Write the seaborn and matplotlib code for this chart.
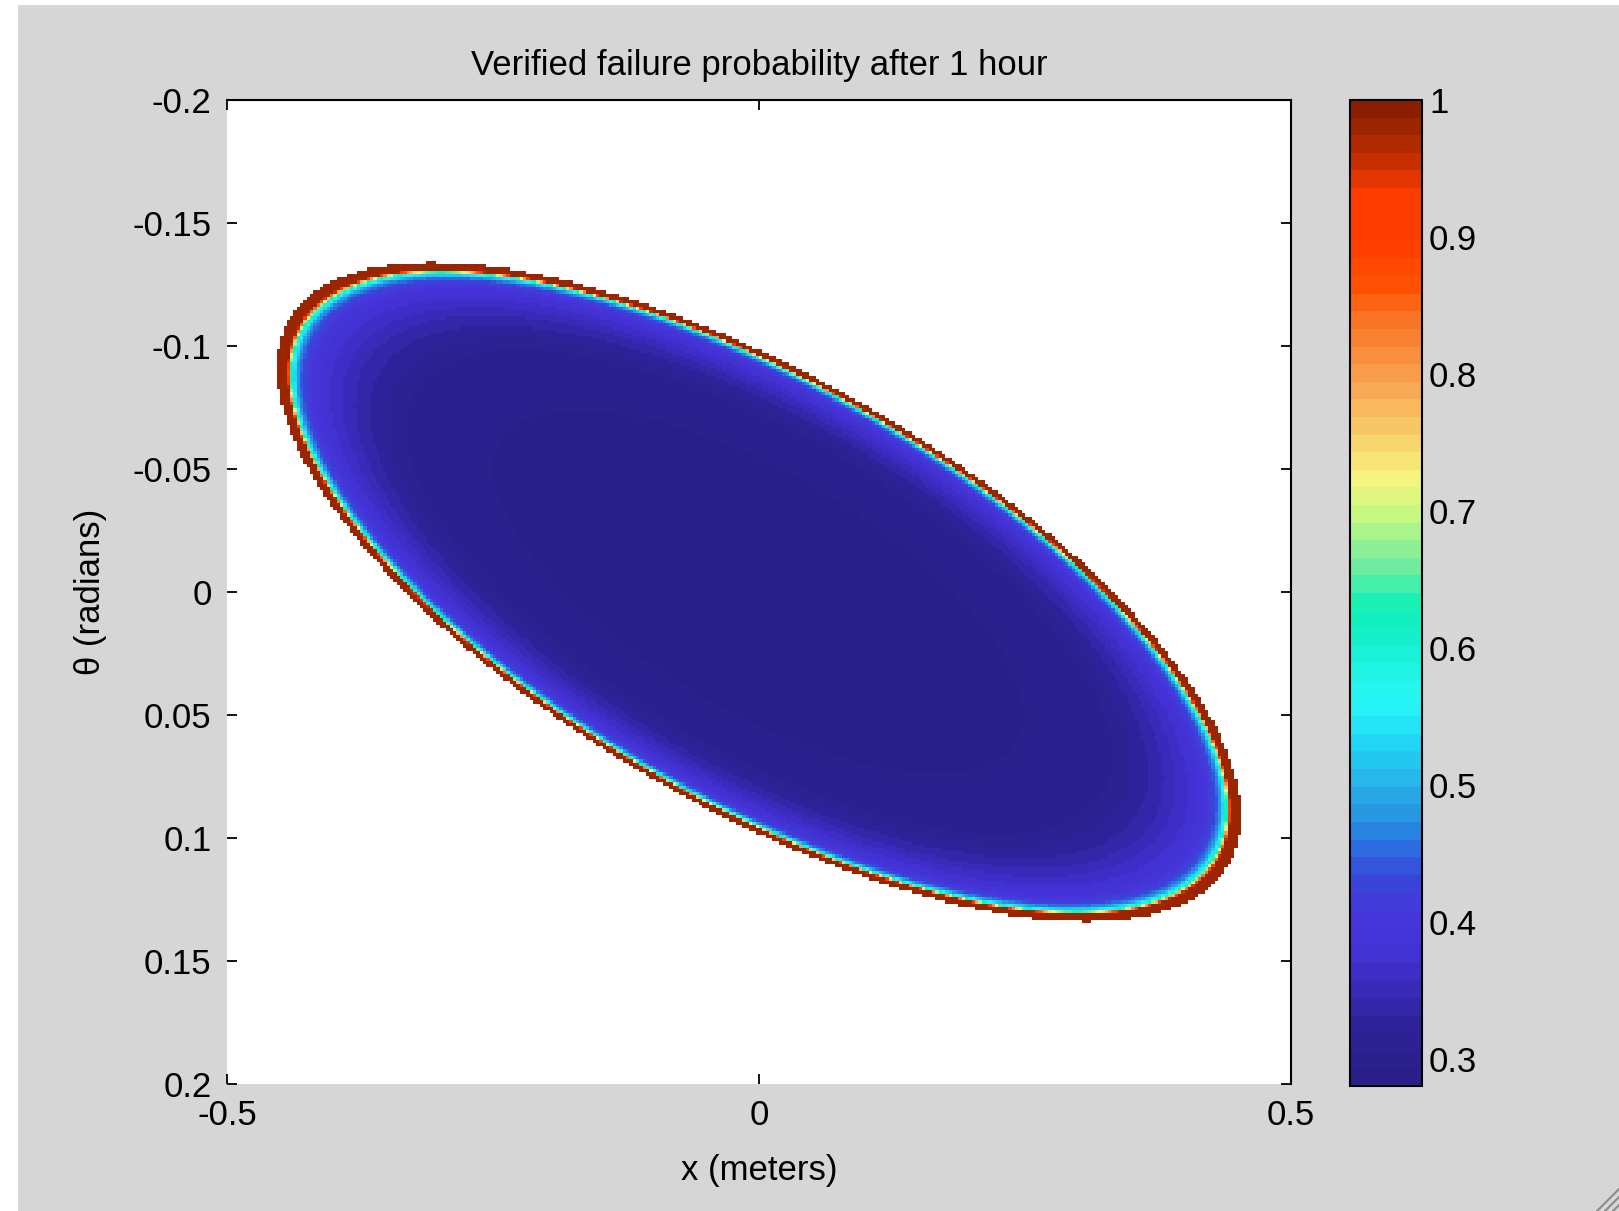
import matplotlib
matplotlib.use("Agg")
import matplotlib.pyplot as plt
from matplotlib.colors import LinearSegmentedColormap
from matplotlib.patches import Rectangle
from matplotlib.lines import Line2D
import numpy as np
import pandas as pd
import seaborn as sns


# Axis ranges and tick labels
x_range = [-0.5, 0.5]
theta_range = [-0.2, 0.2]
x_ticks = [-0.5, 0, 0.5]
x_tick_labels = ["-0.5", "0", "0.5"]
theta_ticks = [-0.2, -0.15, -0.1, -0.05, 0, 0.05, 0.1, 0.15, 0.2]
theta_tick_labels = ["-0.2", "-0.15", "-0.1", "-0.05", "0", "0.05", "0.1", "0.15", "0.2"]
cbar_ticks = [0.3, 0.4, 0.5, 0.6, 0.7, 0.8, 0.9, 1.0]
cbar_tick_labels = ["0.3", "0.4", "0.5", "0.6", "0.7", "0.8", "0.9", "1"]
prob_min, prob_max = 0.28, 1.0

# Boundary of the verified region (an ellipse centred on the origin):
# the point with the largest x and the point with the largest theta
x_extreme_point = [0.453, 0.090]
theta_extreme_point = [0.311, 0.134]

# Failure probability against normalised distance from the centre (1 = boundary)
radius_levels = [0.0, 0.70, 0.78, 0.84, 0.89, 0.925, 0.945, 0.957, 0.964, 0.970, 0.974, 0.978, 1.0]
probability_levels = [0.285, 0.295, 0.32, 0.345, 0.37, 0.39, 0.43, 0.48, 0.55, 0.63, 0.78, 0.98, 0.98]

# Colour map as seen in the colour bar (value, colour)
cmap_values = [0.28, 0.32, 0.345, 0.37, 0.40, 0.43, 0.45, 0.47, 0.50, 0.53, 0.56, 0.60,
               0.63, 0.66, 0.70, 0.725, 0.76, 0.80, 0.84, 0.87, 0.90, 0.935, 0.955, 0.98, 1.0]
cmap_colors = ["#2a1f88", "#2e229a", "#3a2ab8", "#4232d4", "#4636dc", "#3848d8", "#2c6ce0",
               "#2890e0", "#28b4ea", "#20d8f4", "#28f8f8", "#18f0d0", "#10f0b8", "#70eca0",
               "#c8f880", "#f6f480", "#f8cc68", "#f8a050", "#f87828", "#ff5000", "#ff3c00",
               "#ff3c00", "#d03200", "#a42800", "#8a1e00"]

# grid resolution of the field
nx, ny = 320, 300


# quadratic form a x^2 + 2 b x t + c t^2 = 1 from the two extreme points
k1 = -x_extreme_point[1] / x_extreme_point[0]
k2 = -theta_extreme_point[0] / theta_extreme_point[1]
a = 1 / (x_extreme_point[0] ** 2 * (1 - k1 * k2))
c = 1 / (theta_extreme_point[1] ** 2 * (1 - k1 * k2))
b = 0.5 * (k1 * c + k2 * a)

dx = (x_range[1] - x_range[0]) / nx
dt = (theta_range[1] - theta_range[0]) / ny
x_centres = x_range[0] + (np.arange(nx) + 0.5) * dx
t_centres = theta_range[0] + (np.arange(ny) + 0.5) * dt
X, T = np.meshgrid(x_centres, t_centres)
r = np.sqrt(a * X ** 2 + 2 * b * X * T + c * T ** 2)
prob = np.interp(r, radius_levels, probability_levels)
prob[r > 1] = np.nan

df = pd.DataFrame(prob, index=np.round(t_centres, 4), columns=np.round(x_centres, 4))

stops = [(v - prob_min) / (prob_max - prob_min) for v in cmap_values]
cmap = LinearSegmentedColormap.from_list("verified", list(zip(stops, cmap_colors)), N=56)


sns.set_style("white")
plt.rcParams["font.family"] = ["Liberation Sans", "DejaVu Sans"]
plt.rcParams["text.color"] = "black"
plt.rcParams["axes.labelcolor"] = "black"
plt.rcParams["xtick.color"] = "black"
plt.rcParams["ytick.color"] = "black"
fs = 25

fig = plt.figure(figsize=(16.19, 12.11), dpi=100, facecolor="#d6d6d6")
# white strips at the left and top border of the screenshot
fig.patches.append(Rectangle((0, 0), 18 / 1619, 1, transform=fig.transFigure,
                             facecolor="white", edgecolor="none", zorder=-1))
fig.patches.append(Rectangle((0, 1 - 5 / 1211), 1, 5 / 1211, transform=fig.transFigure,
                             facecolor="white", edgecolor="none", zorder=-1))
# resize grip in the corner
for off in [0, 8, 16]:
    fig.add_artist(Line2D([1 - (22 - off) / 1619, 1], [0, (22 - off) / 1211],
                          transform=fig.transFigure, color="#8a8a8a", lw=1.5))

ax = fig.add_axes([0.1402, 0.1049, 0.6572, 0.8125])
cax = fig.add_axes([0.8336, 0.1032, 0.0447, 0.8142])

sns.heatmap(df, ax=ax, cmap=cmap, vmin=prob_min, vmax=prob_max, cbar_ax=cax,
            cbar_kws={"ticks": cbar_ticks}, xticklabels=False, yticklabels=False)
ax.set_facecolor("white")

ax.set_xticks([(v - x_range[0]) / dx for v in x_ticks])
ax.set_xticklabels(x_tick_labels, fontsize=fs, rotation=0, color="black")
ax.set_yticks([(v - theta_range[0]) / dt for v in theta_ticks])
ax.set_yticklabels(theta_tick_labels, fontsize=fs, rotation=0, color="black")
ax.tick_params(direction="in", top=True, right=True, bottom=True, left=True,
               length=7, width=1.3, color="black", pad=11)

for side in ["top", "right"]:
    ax.spines[side].set_visible(True)
    ax.spines[side].set_color("black")
    ax.spines[side].set_linewidth(1.5)
for side in ["left", "bottom"]:
    ax.spines[side].set_visible(False)

ax.set_title("Verified failure probability after 1 hour", fontsize=fs, pad=18, color="black")
ax.set_xlabel("x (meters)", fontsize=fs, color="black")
ax.set_ylabel("θ (radians)", fontsize=fs, color="black")
ax.xaxis.set_label_coords(0.5, -0.071)
ax.yaxis.set_label_coords(-0.113, 0.5)

cb = ax.collections[0].colorbar
cb.set_ticklabels(cbar_tick_labels)
cb.outline.set_linewidth(1.5)
cb.outline.set_edgecolor("black")
cax.tick_params(direction="in", left=True, right=True, length=7, width=1.3,
                labelsize=fs, pad=5, colors="black")

fig.savefig("out.png", dpi=100, facecolor=fig.get_facecolor())
